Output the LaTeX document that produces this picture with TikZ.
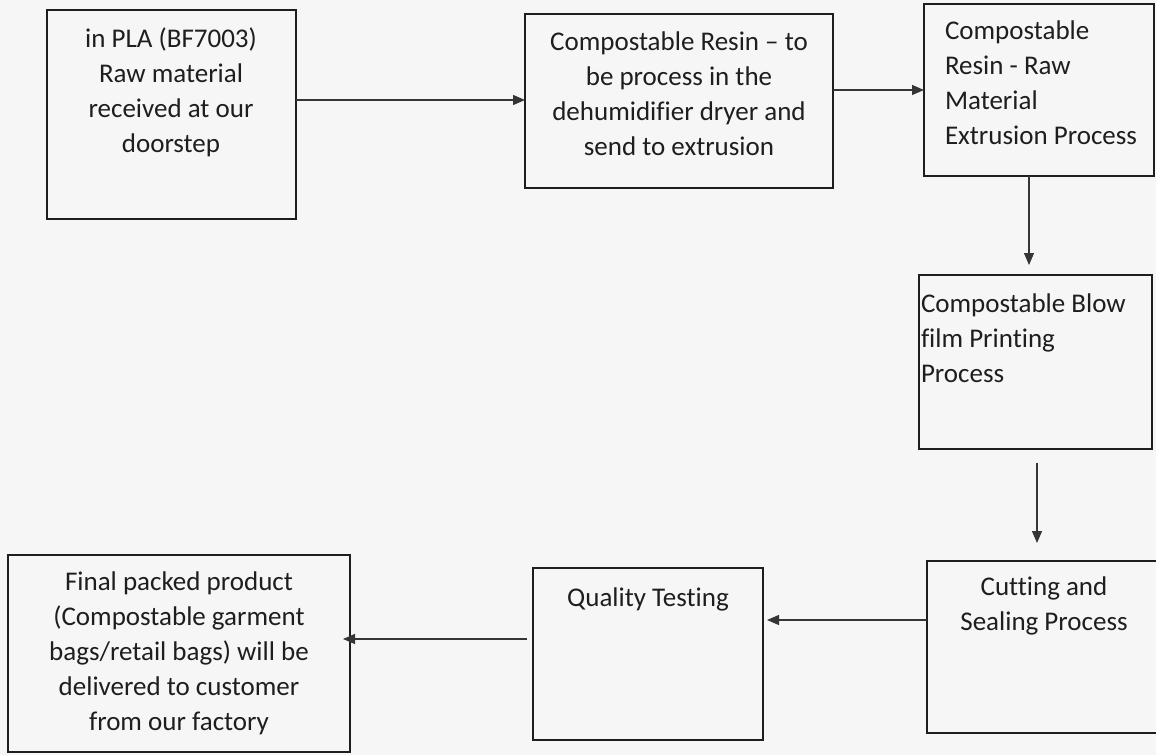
\documentclass[tikz,border=0pt]{standalone}
\usepackage{fontspec}
\setmainfont[Ligatures=NoCommon]{Carlito}
\usetikzlibrary{arrows.meta}
\definecolor{paper}{RGB}{246,246,246}
\definecolor{ink}{RGB}{30,30,30}
\tikzset{
  procbox/.style={draw=ink, line width=1.8pt, anchor=north west, inner sep=0pt, outer sep=0pt, fill=paper},
  boxtext/.style={font=\fontsize{27}{35}\selectfont, text=ink, inner sep=0pt, outer sep=0pt},
  arr/.style={draw=ink!90, line width=1.2pt, -{Triangle[length=12pt,width=10pt]}}
}
\newcommand{\firstline}{\rule{0pt}{20pt}}
\begin{document}
\begin{tikzpicture}[x=1pt,y=-1pt]
\useasboundingbox (0,0) rectangle (1156,755);
\fill[paper] (0,0) rectangle (1156,755);

% boxes
\node[procbox, minimum width=249pt, minimum height=209pt] (A) at (47,10) {};
\node[procbox, minimum width=308pt, minimum height=174pt] (B) at (525,14) {};
\node[procbox, minimum width=230pt, minimum height=172pt] (C) at (924,4) {};
\node[procbox, minimum width=233pt, minimum height=174pt] (D) at (919,275) {};
\node[procbox, minimum width=233pt, minimum height=172pt] (E) at (927,561) {};
\node[procbox, minimum width=230pt, minimum height=172pt] (F) at (533,568) {};
\node[procbox, minimum width=342pt, minimum height=197pt] (G) at (8,555) {};

% texts
\node[boxtext, align=center, anchor=north] (At) at (171,27)
  {\firstline in PLA (BF7003)\\Raw material\\received at our\\doorstep};
\node[boxtext, align=center, anchor=north] (Bt) at (679,30)
  {\firstline Compostable Resin – to\\be process in the\\dehumidifier dryer and\\send to extrusion};
\node[boxtext, align=left, anchor=north west] (Ct) at (945,19)
  {\firstline Compostable\\Resin - Raw\\Material\\Extrusion Process};
\node[boxtext, align=left, anchor=north west] (Dt) at (921,292)
  {\firstline Compostable Blow\\film Printing\\Process};
\node[boxtext, align=center, anchor=north] (Et) at (1044,575)
  {\firstline Cutting and\\Sealing Process};
\node[boxtext, align=center, anchor=north] (Ft) at (648,586)
  {\firstline Quality Testing};
\node[boxtext, align=center, anchor=north] (Gt) at (179,570)
  {\firstline Final packed product\\(Compostable garment\\bags/retail bags) will be\\delivered to customer\\from our factory};

% connector guides
\coordinate (r1) at (0,100);
\coordinate (r2) at (0,90);
\coordinate (c3) at (1029,0);
\coordinate (c4) at (1037,0);
\coordinate (r5) at (0,620);
\coordinate (r6) at (0,639);

% connectors
\draw[arr] (A.east |- r1) -- (B.west |- r1);
\draw[arr] (B.east |- r2) -- (C.west |- r2);
\draw[arr, shorten >=10pt] (C.south -| c3) -- (D.north -| c3);
\draw[arr, shorten <=14pt, shorten >=18pt] (D.south -| c4) -- (E.north -| c4);
\draw[arr, shorten >=4pt] (E.west |- r5) -- (F.east |- r5);
\draw[arr, shorten <=6pt, shorten >=-7pt] (F.west |- r6) -- (G.east |- r6);
\end{tikzpicture}
\end{document}
